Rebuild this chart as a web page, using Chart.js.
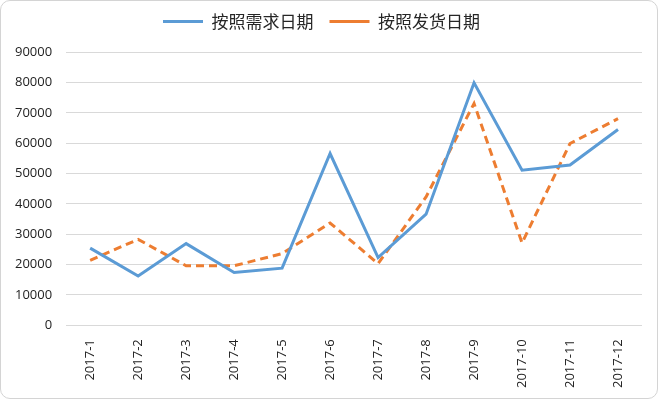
<!DOCTYPE html>
<html>
<head>
<meta charset="utf-8">
<script src="https://cdn.jsdelivr.net/npm/chart.js@4"></script>
<style>
  html, body { margin: 0; padding: 0; background: #fff; }
  #box {
    width: 658px; height: 399px; box-sizing: border-box;
    border: 1px solid #d4d4d4; border-radius: 10px; overflow: hidden;
  }
</style>
</head>
<body>
<div id="box"><canvas id="myChart"></canvas></div>
<script>
// months on the x axis
const months = ['2017-1', '2017-2', '2017-3', '2017-4', '2017-5', '2017-6',
                '2017-7', '2017-8', '2017-9', '2017-10', '2017-11', '2017-12'];
// by demand date
const byDemand = [25400, 16200, 26900, 17400, 18800, 56600, 22300, 36600, 79900, 51100, 52800, 64500];
// by shipping date
const byShipping = [21400, 28300, 19600, 19600, 23600, 33700, 20300, 42300, 73100, 27100, 59900, 68100];

Chart.defaults.font.family = "'Open Sans', 'Noto Sans CJK SC', sans-serif";
Chart.defaults.color = '#222';

var ctx = document.getElementById('myChart').getContext('2d');
var chart = new Chart(ctx, {
    type: 'line',
    data: {
        labels: months,
        datasets: [{
                label: '按照需求日期',
                data: byDemand,
                borderColor: '#5b9bd5',
                backgroundColor: '#5b9bd5',
                borderWidth: 3,
                pointRadius: 0,
                tension: 0
            },
            {
                label: '按照发货日期',
                data: byShipping,
                borderColor: '#ed7d31',
                backgroundColor: '#ed7d31',
                borderWidth: 3,
                borderDash: [8, 5],
                pointRadius: 0,
                tension: 0
            }
        ]
    },
    options: {
        responsive: true,
        maintainAspectRatio: false,
        animation: false,
        layout: { padding: { left: 0, right: 15, top: -4, bottom: 4 } },
        plugins: {
            legend: {
                labels: {
                    usePointStyle: true,
                    pointStyle: 'line',
                    pointStyleWidth: 40,
                    boxHeight: 3,
                    padding: 16,
                    color: '#262626',
                    font: { family: "'Noto Sans CJK SC', sans-serif", size: 17 }
                }
            },
            // empty subtitle used as a spacer under the legend
            subtitle: {
                display: true,
                text: ' ',
                weight: 500,
                font: { size: 1 },
                padding: { top: 0, bottom: 11 }
            },
            tooltip: { enabled: false }
        },
        scales: {
            x: {
                offset: true,
                grid: { display: false },
                border: { display: false },
                ticks: { minRotation: 90, maxRotation: 90, font: { size: 13 }, padding: 6 }
            },
            y: {
                min: 0,
                max: 90000,
                grid: { color: '#d9d9d9', drawTicks: false },
                border: { display: false },
                ticks: {
                    stepSize: 10000,
                    font: { size: 13 },
                    padding: 14,
                    callback: v => String(v)
                }
            }
        }
    }
});
</script>
</body>
</html>
